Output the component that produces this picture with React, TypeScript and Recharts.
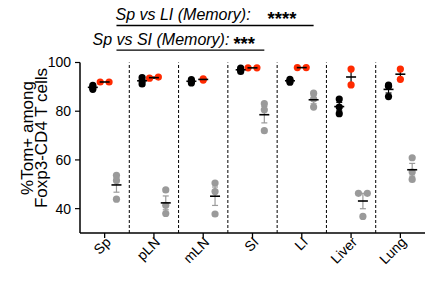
import { ScatterChart, Scatter, XAxis, YAxis, ReferenceLine, ErrorBar } from 'recharts';

const CATEGORIES = ['Sp', 'pLN', 'mLN', 'SI', 'LI', 'Liver', 'Lung'];
const Y_TICKS = [40, 60, 80, 100];

// %Tom+ per mouse, one inner array per tissue (same order as CATEGORIES)
const BLACK_VALUES = [
  [90.6, 89.8, 89.0],
  [93.8, 92.5, 91.2],
  [93.0, 92.3, 91.6],
  [97.7, 97.0, 96.3],
  [93.1, 92.5, 91.9],
  [85.0, 81.7, 79.0],
  [90.7, 90.2, 86.0],
];
const RED_VALUES = [
  [92.0, 92.0],
  [93.55, 94.0],
  [92.8, 93.3],
  [97.8, 97.8],
  [97.9, 97.9],
  [97.3, 90.8],
  [97.3, 93.1],
];
const MEMORY_VALUES = [
  [53.7, 51.6, 43.9],
  [47.7, 41.4, 38.0],
  [50.5, 47.0, 37.8],
  [83.1, 80.6, 72.0],
  [87.4, 85.0, 81.7],
  [46.3, 46.3, 36.8],
  [60.9, 55.0, 52.0],
];

const COMPARISONS = [
  { from: 'Sp', to: 'LI', text: 'Sp vs LI (Memory):', stars: '****' },
  { from: 'Sp', to: 'SI', text: 'Sp vs SI (Memory):', stars: '***' },
];

const FONT = "Arial, 'Liberation Sans', Helvetica, sans-serif";
const RED = '#ff2a00';
const GRAY = '#9a9a9a';

const GROUPS = [
  { key: 'black', values: BLACK_VALUES, color: '#000', errColor: '#000', offset: -0.24 },
  { key: 'red', values: RED_VALUES, color: RED, errColor: '#000', offset: 0 },
  { key: 'memory', values: MEMORY_VALUES, color: GRAY, errColor: GRAY, offset: 0.24 },
];

// layout of the comparison bars (y in data units, text offsets in px)
const COMP_LAYOUT = [
  { level: 115.2, textDx: -1, starDx: 17 },
  { level: 105.1, textDx: -24, starDx: 4 },
];

const SPREAD = 0.18;

// points with (almost) the same value sit side by side, like prism does
function spread(values: number[]): number[] {
  const order = values.map((_, i) => i).sort((a, b) => values[a] - values[b]);
  const off = values.map(() => 0);
  let cluster: number[] = [];
  const flush = () => {
    cluster.forEach((k, j) => {
      off[k] = (j - (cluster.length - 1) / 2) * SPREAD;
    });
  };
  order.forEach((k, i) => {
    if (i > 0 && values[k] - values[order[i - 1]] >= 0.5) {
      flush();
      cluster = [];
    }
    cluster.push(k);
  });
  flush();
  return off;
}

function mean(v: number[]) {
  return v.reduce((a, b) => a + b, 0) / v.length;
}

function sem(v: number[]) {
  const m = mean(v);
  const sd = Math.sqrt(v.reduce((a, b) => a + (b - m) ** 2, 0) / (v.length - 1));
  return sd / Math.sqrt(v.length);
}

function YTitle({ viewBox }: any) {
  const cy = 138;
  const x1 = viewBox.x + 27;
  const x2 = viewBox.x + 41;
  return (
    <g fontSize={17} fontFamily={FONT} fill="#000">
      <text x={x1} y={cy} textAnchor="middle" dominantBaseline="central" transform={`rotate(-90, ${x1}, ${cy})`}>
        %Tom+ among
      </text>
      <text x={x2} y={cy} textAnchor="middle" dominantBaseline="central" transform={`rotate(-90, ${x2}, ${cy})`}>
        Foxp3-CD4 T cells
      </text>
    </g>
  );
}

export default function App() {
  const memoryOffset = GROUPS[2].offset;

  return (
    <div style={{ position: 'absolute', left: 0, top: 0, width: 425, height: 285 }}>
      <ScatterChart width={425} height={285} margin={{ top: 62.5, right: 0, bottom: 7, left: 0 }}>
        <XAxis
          type="number"
          dataKey="x"
          domain={[-0.5, 6.5]}
          ticks={CATEGORIES.map((_, i) => i)}
          tickFormatter={(v: number) => CATEGORIES[v]}
          interval={0}
          height={45}
          angle={-45}
          textAnchor="end"
          tick={{ fontSize: 14, fontFamily: FONT, fill: '#000', angle: -45, textAnchor: 'end' }}
          tickSize={5}
          tickMargin={-2}
          axisLine={{ stroke: '#000', strokeWidth: 1.5 }}
          tickLine={{ stroke: '#000', strokeWidth: 1.3 }}
        />
        <YAxis
          type="number"
          dataKey="y"
          domain={[30, 100]}
          ticks={Y_TICKS}
          width={80}
          tickSize={5}
          tickMargin={4}
          tick={{ fontSize: 14, fontFamily: FONT, fill: '#000' }}
          axisLine={{ stroke: '#000', strokeWidth: 1.5 }}
          tickLine={{ stroke: '#000', strokeWidth: 1.2 }}
          label={{ content: <YTitle /> }}
        />
        {CATEGORIES.slice(1).map((c, i) => (
          <ReferenceLine key={c} x={i + 0.5} stroke="#000" strokeWidth={1} strokeDasharray="3 2" />
        ))}
        {COMPARISONS.map((c, i) => {
          const a = CATEGORIES.indexOf(c.from) + memoryOffset;
          const b = CATEGORIES.indexOf(c.to) + memoryOffset;
          const lay = COMP_LAYOUT[i];
          return (
            <ReferenceLine
              key={c.text}
              segment={[
                { x: a, y: lay.level },
                { x: b, y: lay.level },
              ]}
              ifOverflow="visible"
              stroke="#000"
              strokeWidth={1.3}
              label={{
                content: ({ viewBox }: any) => (
                  <text x={viewBox.x + lay.textDx} y={viewBox.y - 5} fontFamily={FONT} fontSize={16} fill="#000">
                    <tspan fontStyle="italic">{c.text}</tspan>
                    <tspan dx={lay.starDx} dy={5} fontSize={18.5} fontWeight="bold">
                      {c.stars}
                    </tspan>
                  </text>
                ),
              }}
            />
          );
        })}
        {GROUPS.map((g) => {
          const pts = g.values.flatMap((vals, i) => {
            const off = spread(vals);
            return vals.map((v, j) => ({ x: i + g.offset + off[j], y: v }));
          });
          return (
            <Scatter
              key={g.key}
              data={pts}
              isAnimationActive={false}
              shape={(p: any) => <circle cx={p.cx} cy={p.cy} r={3.6} fill={g.color} />}
            />
          );
        })}
        {GROUPS.map((g) => {
          const stats = g.values.map((vals, i) => ({ x: i + g.offset, y: mean(vals), err: sem(vals) }));
          return (
            <Scatter
              key={g.key + '-mean'}
              data={stats}
              isAnimationActive={false}
              shape={(p: any) => (
                <line x1={p.cx - 5} x2={p.cx + 5} y1={p.cy} y2={p.cy} stroke="#000" strokeWidth={1.6} />
              )}
            >
              <ErrorBar dataKey="err" direction="y" width={3} stroke={g.errColor} strokeWidth={1.2} isAnimationActive={false} />
            </Scatter>
          );
        })}
      </ScatterChart>
    </div>
  );
}
